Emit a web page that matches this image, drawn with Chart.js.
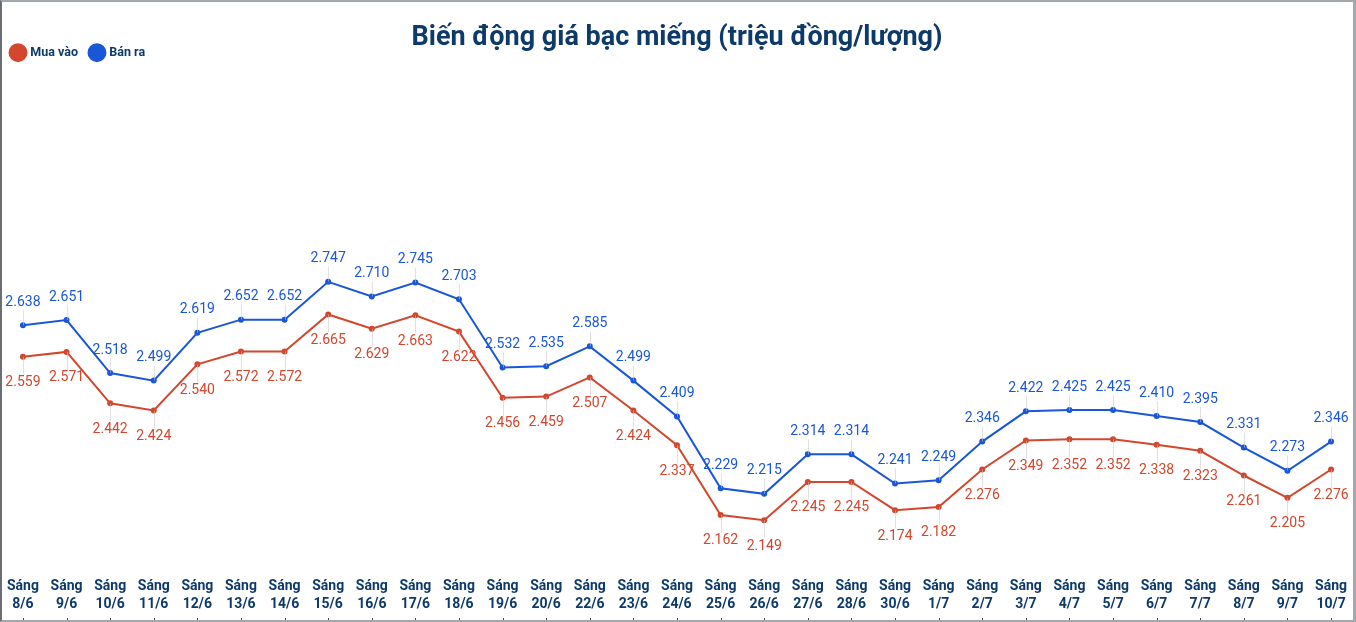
<!DOCTYPE html>
<html>
<head>
<meta charset="utf-8">
<script src="https://cdn.jsdelivr.net/npm/chart.js@4.4.1/dist/chart.umd.min.js"></script>
<style>
  html, body { margin: 0; padding: 0; background: #fff; }
  #wrap {
    position: relative; width: 1356px; height: 622px; box-sizing: border-box;
    border-top: 2px solid #a3a8ad; border-right: 3px solid #a3a8ad;
    border-bottom: 2px solid #a3a8ad; border-left: 2px solid #6b6f73;
    background: #fff; overflow: hidden;
  }
  canvas { display: block; margin-left: -3px; }
</style>
</head>
<body>
<div id="wrap"><canvas id="c" width="1356" height="618" style="width:1356px;height:618px"></canvas></div>
<script>
const categories = ["8/6","9/6","10/6","11/6","12/6","13/6","14/6","15/6","16/6","17/6","18/6","19/6","20/6","22/6","23/6","24/6","25/6","26/6","27/6","28/6","30/6","1/7","2/7","3/7","4/7","5/7","6/7","7/7","8/7","9/7","10/7"];
const muaVao = [2.559,2.571,2.442,2.424,2.540,2.572,2.572,2.665,2.629,2.663,2.622,2.456,2.459,2.507,2.424,2.337,2.162,2.149,2.245,2.245,2.174,2.182,2.276,2.349,2.352,2.352,2.338,2.323,2.261,2.205,2.276];
const banRa = [2.638,2.651,2.518,2.499,2.619,2.652,2.652,2.747,2.710,2.745,2.703,2.532,2.535,2.585,2.499,2.409,2.229,2.215,2.314,2.314,2.241,2.249,2.346,2.422,2.425,2.425,2.410,2.395,2.331,2.273,2.346];
const seriesNames = ["Mua vào", "Bán ra"];
const titleText = "Biến động giá bạc miếng (triệu đồng/lượng)";

const RED = '#d2472d', BLUE = '#1a57d8', NAVY = '#0e3a6a';

const labelPlugin = {
  id: 'valueLabels',
  afterDatasetsDraw(chart) {
    const ctx = chart.ctx;
    ctx.save();
    ctx.font = '14px Roboto';
    ctx.textAlign = 'center';
    ctx.textBaseline = 'middle';
    chart.data.datasets.forEach((ds, di) => {
      const meta = chart.getDatasetMeta(di);
      const above = di === 1;
      meta.data.forEach((pt, i) => {
        const v = ds.data[i];
        const x = pt.x, y = pt.y;
        const ly = above ? y - 23 : y + 26;
        ctx.strokeStyle = 'rgba(200,200,200,0.55)';
        ctx.lineWidth = 1;
        ctx.beginPath();
        ctx.moveTo(Math.round(x) + 0.5, y);
        ctx.lineTo(Math.round(x) + 0.5, above ? ly + 8 : ly - 8);
        ctx.stroke();
        ctx.fillStyle = ds.borderColor;
        ctx.fillText(v.toFixed(3), x, ly);
      });
    });
    ctx.restore();
  },
  afterDraw(chart) {
    const ctx = chart.ctx, xs = chart.scales.x;
    ctx.save();
    ctx.fillStyle = '#444';
    for (let i = 0; i < categories.length; i++) {
      const x = Math.round(xs.getPixelForTick(i));
      ctx.fillRect(x, chart.height - 2, 1, 2);
    }
    ctx.restore();
  }
};

new Chart(document.getElementById('c'), {
  type: 'line',
  data: {
    labels: categories.map(d => ["Sáng", d]),
    datasets: [
      { label: seriesNames[0], data: muaVao, borderColor: RED, backgroundColor: RED,
        borderWidth: 2, pointRadius: 2, pointHoverRadius: 2, tension: 0 },
      { label: seriesNames[1], data: banRa, borderColor: BLUE, backgroundColor: BLUE,
        borderWidth: 2, pointRadius: 2, pointHoverRadius: 2, tension: 0 }
    ]
  },
  options: {
    responsive: false,
    animation: false,
    devicePixelRatio: 1,
    maintainAspectRatio: false,
    layout: { autoPadding: false, padding: { left: 0, right: 0, top: 0, bottom: -2 } },
    plugins: {
      title: { display: true, text: titleText, color: NAVY,
        font: { family: 'Roboto', size: 27, weight: 'bold' },
        padding: { top: 20, bottom: -21 } },
      legend: { display: true, position: 'top', align: 'start',
        labels: { usePointStyle: true, pointStyle: 'circle', boxWidth: 12, boxHeight: 12,
          padding: 13, color: NAVY, font: { family: 'Roboto', size: 12.5, weight: 'bold' } } },
      tooltip: { enabled: false }
    },
    scales: {
      x: { offset: true, grid: { display: false }, border: { display: false },
        ticks: { autoSkip: false, maxRotation: 0, minRotation: 0, padding: 8, color: NAVY,
          font: { family: 'Roboto', size: 14, weight: 'bold', lineHeight: 1.3 } } },
      y: { display: false, min: 2.045, max: 3.281 }
    }
  },
  plugins: [labelPlugin]
});
</script>
</body>
</html>
